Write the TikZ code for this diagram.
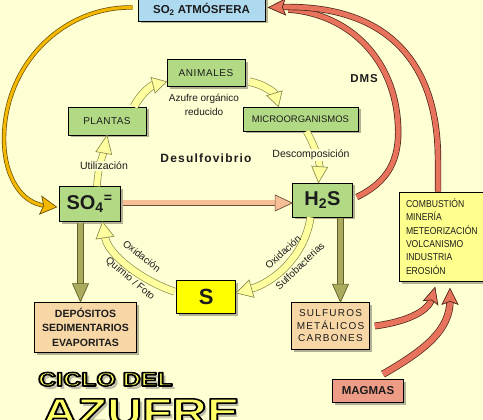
\documentclass[tikz,border=0pt]{standalone}
\usepackage{fontspec}
\setmainfont{Liberation Sans}
\newfontfamily\condfont[FakeStretch=0.86]{Liberation Sans}
\usepackage{graphicx}
\usetikzlibrary{decorations.markings,shadows}
\definecolor{bg}{HTML}{FFFFD4}
\definecolor{boxgreen}{HTML}{B2DA84}
\definecolor{skyblue}{HTML}{AEDAF0}
\definecolor{peach}{HTML}{F7D7A6}
\definecolor{sbox}{HTML}{FFFF00}
\definecolor{combbox}{HTML}{FFFF8E}
\definecolor{magbox}{HTML}{EE9C86}
\definecolor{salmon}{HTML}{E8735C}
\definecolor{salmonline}{HTML}{4A2418}
\definecolor{gold}{HTML}{F4B800}
\definecolor{goldline}{HTML}{6A5000}
\definecolor{paley}{HTML}{FFFFA0}
\definecolor{paleyline}{HTML}{8E8E4E}
\definecolor{olive}{HTML}{ABAB5E}
\definecolor{oliveline}{HTML}{5E5E2A}
\definecolor{desul}{HTML}{F6BF96}
\definecolor{desulline}{HTML}{6E5038}
\definecolor{txt}{HTML}{1C1C1C}
\definecolor{titley}{HTML}{FFFF66}
\tikzset{
  fat/.style n args={7}{draw=#2, line width=0.7pt, double=#1, double distance=#3, shorten >=#7,
    postaction={decorate, decoration={markings, mark=at position 0.9999 with {
      \filldraw[fill=#1, draw=#2, line width=0.7pt, line join=miter]
        (0pt,0pt) -- (-#4,#5) -- (-#4+#6,0pt) -- (-#4,-#5) -- cycle;}}}},
  fatnohead/.style n args={3}{draw=#2, line width=0.7pt, double=#1, double distance=#3},
  box/.style={draw=black, line width=0.7pt, text=txt, inner sep=0pt,
    drop shadow={shadow xshift=2.5pt, shadow yshift=-2.5pt, opacity=0.3, fill=black}},
  lbl/.style={text=txt, inner sep=1pt, font=\fontsize{10}{12}\selectfont},
}
\newcommand\outl[1]{\special{pdf:literal direct 0 0 0 RG 1.5 w 1 j 2 Tr}#1\special{pdf:literal direct 0 Tr}}
\newcommand\cicloT{\scalebox{1.28}[1]{CICLO DEL}}
\newcommand\azufreT{\scalebox{1.28}[1]{AZUFRE}}
\begin{document}
\begin{tikzpicture}[x=1pt,y=-1pt]
\clip (0,0) rectangle (483,420);
\fill[bg] (0,0) rectangle (483,420);

% boxes
\node[box, fill=skyblue, minimum width=127pt, minimum height=23pt, font=\bfseries\fontsize{11.5}{12}\selectfont] (so2) at (201.5,9.5) {SO\textsubscript{2} ATMÓSFERA};
\node[box, fill=boxgreen, minimum width=78pt, minimum height=27pt, font=\fontsize{10}{12}\selectfont\addfontfeature{LetterSpace=6}] (anim) at (206,72.7) {ANIMALES};
\node[box, fill=boxgreen, minimum width=78pt, minimum height=28pt, font=\fontsize{10}{12}\selectfont\addfontfeature{LetterSpace=4}] (plantas) at (107,121) {PLANTAS};
\node[box, fill=boxgreen, minimum width=115pt, minimum height=24pt, font=\fontsize{9.5}{12}\selectfont] (micro) at (300.5,119) {MICROORGANISMOS};
\node[box, fill=boxgreen, minimum width=61pt, minimum height=35pt, font=\bfseries\fontsize{20}{22}\selectfont] (so4) at (89.5,204) {SO\textsubscript{4}\textsuperscript{=}};
\node[box, fill=boxgreen, minimum width=60pt, minimum height=34pt, font=\bfseries\fontsize{20}{22}\selectfont] (h2s) at (322.5,200) {H\textsubscript{2}S};
\node[box, fill=sbox, minimum width=59pt, minimum height=33pt, font=\bfseries\fontsize{22}{24}\selectfont] (sbx) at (206.3,296.5) {S};
\node[box, fill=peach, minimum width=102pt, minimum height=50pt, align=center, font=\bfseries\fontsize{10.5}{14.5}\selectfont] (dep) at (85.5,327) {DEPÓSITOS\\SEDIMENTARIOS\\EVAPORITAS};
\node[box, fill=peach, minimum width=78pt, minimum height=47pt, align=center, font=\fontsize{10}{12.5}\selectfont\addfontfeature{LetterSpace=12}] (sulf) at (330.5,326) {SULFUROS\\METÁLICOS\\CARBONES};
\node[box, fill=combbox, minimum width=91pt, minimum height=89pt, text width=77pt, align=left, font=\condfont\fontsize{10}{13.4}\selectfont] (comb) at (444.5,236.5) {COMBUSTIÓN\\MINERÍA\\METEORIZACIÓN\\VOLCANISMO\\INDUSTRIA\\EROSIÓN};
\node[box, fill=magbox, minimum width=71pt, minimum height=23pt, font=\bfseries\fontsize{11.5}{12}\selectfont] (magmas) at (368,391) {MAGMAS};

% gold arc
\draw[fat={gold}{goldline}{3pt}{16pt}{9pt}{3pt}{12pt}] ([xshift=-5pt,yshift=2pt]so2.west) .. controls (65,6) and (5,62) .. (4,138) .. controls (4,178) and (22,203) .. ([xshift=-2pt,yshift=-3pt]so4.west);

% Desulfovibrio
\draw[fat={desul}{desulline}{5pt}{17pt}{8pt}{0pt}{16pt}] ([xshift=3pt,yshift=1pt]so4.east) -- ([yshift=-3pt]h2s.west);

% olive arrows
\draw[fat={olive}{oliveline}{5pt}{18pt}{8pt}{0pt}{17pt}] ([xshift=-9pt,yshift=-1pt]so4.south) -- ([xshift=-5pt]dep.north);
\draw[fat={olive}{oliveline}{5pt}{18pt}{8pt}{0pt}{17pt}] ([xshift=18pt,yshift=-1pt]h2s.south) -- ([xshift=10pt]sulf.north);

% pale yellow arrows
\draw[fat={paley}{paleyline}{6pt}{18pt}{8pt}{0pt}{17pt}] ([xshift=7.5pt]so4.north) .. controls (98,165) and (104,152) .. (plantas.south);
\draw[fat={paley}{paleyline}{7pt}{14pt}{8pt}{0pt}{13pt}] ([xshift=27pt]plantas.north) .. controls (140,95) and (150,86) .. ([yshift=-9pt]anim.west);
\draw[fat={paley}{paleyline}{7pt}{14pt}{8pt}{0pt}{13pt}] ([xshift=4pt,yshift=-9pt]anim.east) .. controls (262,84) and (274,92) .. ([xshift=-22pt]micro.north);
\draw[fat={paley}{paleyline}{6pt}{16pt}{8pt}{0pt}{15pt}] ([xshift=6pt]micro.south) .. controls (316,148) and (320,163) .. ([xshift=-4pt]h2s.north);
\draw[fat={paley}{paleyline}{6.5pt}{16pt}{9pt}{0pt}{15pt}] ([xshift=-12pt]h2s.south) .. controls (305,255) and (275,282) .. ([yshift=3.5pt]sbx.east);
\draw[fat={paley}{paleyline}{6.5pt}{16pt}{9pt}{0pt}{15pt}] ([xshift=-2pt,yshift=5pt]sbx.west) .. controls (145,282) and (108,256) .. ([xshift=13pt]so4.south);

% salmon arrows
\draw[fatnohead={salmon}{salmonline}{5pt}] ([xshift=4pt,yshift=3pt]h2s.east) .. controls (388,182) and (400,160) .. (398,125) .. controls (395,60) and (350,14) .. ([xshift=23pt,yshift=0pt]so2.east);
\draw[fat={salmon}{salmonline}{5pt}{17pt}{8pt}{3pt}{13pt}] ([xshift=-6.5pt]comb.north) -- (438,160) .. controls (438,60) and (385,6) .. (285,7) -- ([xshift=3pt,yshift=2pt]so2.east);
\draw[fat={salmon}{salmonline}{5.5pt}{16pt}{7.5pt}{3pt}{12pt}] ([xshift=5pt]sulf.east) .. controls (405,322) and (428,312) .. ([xshift=-9.5pt,yshift=-6pt]comb.south);
\draw[fat={salmon}{salmonline}{6pt}{16pt}{8pt}{3pt}{12pt}] ([xshift=15pt,yshift=5pt]magmas.north) .. controls (425,350) and (450,330) .. ([xshift=5.5pt,yshift=-7pt]comb.south);

% labels
\node[lbl, align=center, font=\fontsize{10}{14}\selectfont] (azu) at (204,105) {Azufre orgánico\\reducido};
\node[lbl, fill=bg, font=\fontsize{10.5}{12}\selectfont] (util) at (104,166) {Utilización};
\node[lbl, fill=bg, font=\fontsize{10.5}{12}\selectfont] (desc) at (311,155) {Descomposición};
\node[lbl, font=\bfseries\fontsize{12}{14}\selectfont\addfontfeature{LetterSpace=10}] (desulf) at (206,158) {Desulfovibrio};
\node[lbl, font=\bfseries\fontsize{11.5}{14}\selectfont\addfontfeature{LetterSpace=8}] (dms) at (364,79) {DMS};
\node[lbl, rotate=-38] (ox1) at (142,256) {Oxidación};
\node[lbl, rotate=-40] (qf) at (130,279) {Químio / Foto};
\node[lbl, rotate=43] (ox2) at (283,252) {Oxidación};
\node[lbl, rotate=44] (sb) at (300,266) {Sulfobacterias};

% title
\begin{scope}[every node/.style={inner sep=0pt, anchor=base west}]
\node[text=black!55, opacity=0.45, font=\bfseries\fontsize{19.5}{20}\selectfont] (cs) at (41,389) {\cicloT};
\node[text=black!55, opacity=0.45, font=\bfseries\fontsize{38}{40}\selectfont] (as) at (45,428) {\azufreT};
\node[text=titley, font=\bfseries\fontsize{19.5}{20}\selectfont] (ct) at (38,386) {\outl{\cicloT}};
\node[text=titley, font=\bfseries\fontsize{38}{40}\selectfont] (at) at (42,425) {\outl{\azufreT}};
\end{scope}
\end{tikzpicture}
\end{document}
